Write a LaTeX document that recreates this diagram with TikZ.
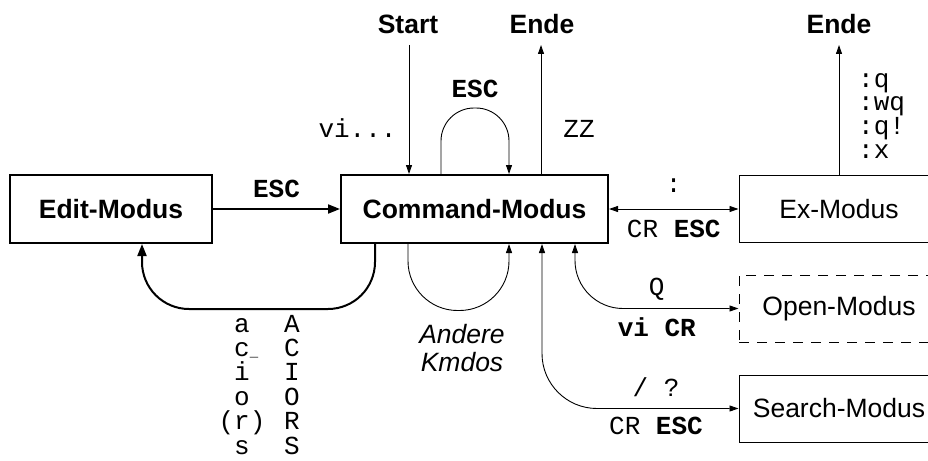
\documentclass[tikz,border=0pt]{standalone}
\usepackage{fontspec}
\setsansfont{Liberation Sans}
\setmonofont{Liberation Mono}
\usetikzlibrary{arrows.meta}

\newcommand{\bigfont}{\fontsize{26.5}{28}\selectfont}
\newcommand{\keyfont}{\fontsize{26}{28}\selectfont\ttfamily}
\newcommand{\smallbar}{\rlap{\fontsize{14}{14}\selectfont\_}}

\tikzset{
	modebox/.style={draw, line width=2pt, minimum height=68pt, inner sep=0pt, font=\sffamily\bfseries\bigfont},
	sidebox/.style={draw, line width=1pt, minimum width=200pt, minimum height=67pt, inner sep=0pt, font=\sffamily\bigfont},
	title/.style={font=\sffamily\bfseries\bigfont, inner sep=1pt},
	key/.style={font=\keyfont, inner sep=1pt, anchor=base},
	boldkey/.style={key, font=\keyfont\bfseries},
	thinarrow/.style={line width=0.9pt, -{Triangle[length=9pt,width=6pt]}},
	twoway/.style={line width=0.9pt, {Triangle[length=9pt,width=6pt]}-{Triangle[length=9pt,width=6pt]}},
	thickarrow/.style={line width=2pt, -{Triangle[length=12pt,width=9pt]}},
}

\begin{document}
\begin{tikzpicture}[x=1pt,y=-1pt]
	\clip (0,0) rectangle (928,460);
	
	% MODES
	\node[modebox, minimum width=202pt] (edit) at (111,209) {Edit-Modus};
	\node[modebox, minimum width=267pt] (cmd) at (474.5,209) {Command-Modus};
	\node[sidebox] (ex) at (839,209) {Ex-Modus};
	\node[sidebox, dash pattern=on 10pt off 8pt] (open) at (839,308.5) {Open-Modus};
	\node[sidebox] (search) at (839,408.5) {Search-Modus};
	
	% TOP ROW
	\node[title] (start) at (408,24) {Start};
	\node[title] (ende) at (542,24) {Ende};
	\node[title] (exende) at (839,24) {Ende};
	
	\coordinate (starttip) at (409,45);
	\coordinate (endetip) at (541,45);
	\coordinate (exendetip) at (839,45);
	
	% Start and end
	\draw[thinarrow] (starttip) -- (starttip |- cmd.north)
	node[key, pos=0.72, anchor=base east, xshift=-11pt] {vi...};
	\draw[thinarrow] (endetip |- cmd.north) -- (endetip)
	node[key, pos=0.28, anchor=base west, xshift=21pt] {ZZ};
	
	% ESC loop
	\draw[thinarrow, rounded corners=33pt] ([xshift=101pt]cmd.north west) -- ++(0,-66) -| ([xshift=-100pt]cmd.north east)
	node[boldkey, pos=0.25, yshift=11pt] {ESC};
	
	% Edit -> Command
	\draw[thickarrow] (edit) -- (cmd) node[boldkey, midway, yshift=12pt] {ESC};
	
	% Command <-> Ex
	\draw[twoway] (cmd) -- (ex)
	node[key, midway, yshift=17pt] {:}
	node[key, midway, yshift=-28pt] {CR \textbf{ESC}};
	
	% Ex -> Ende
	\draw[thinarrow] (ex) -- (exendetip);
	\foreach \quitcmd [count=\i] in {:q,:wq,:q!,:x}
		\node[key, anchor=base west] (quit\i) at (857,{87+23.7*(\i-1)}) {\quitcmd};
	
	% BOTTOM ROW
	
	% Command -> Edit
	\draw[thickarrow, rounded corners=47pt] ([xshift=35pt]cmd.south west) -- ++(0,65) -| ([xshift=133pt]edit.south west);
	\foreach \lc [count=\i] in {a,c\smallbar,i,o,{(r)},s}
		\node[key] (lower\i) at (242,{332+24.4*(\i-1)}) {\lc};
	\foreach \uc [count=\i] in {A,C,I,O,R,S}
		\node[key] (upper\i) at (292,{332+24.4*(\i-1)}) {\uc};
	
	% Other commands
	\draw[thinarrow, rounded corners=49.5pt] ([xshift=68pt]cmd.south west) -- ++(0,66.5) -| ([xshift=-100pt]cmd.south east);
	\node[font=\sffamily\itshape\bigfont, align=center, inner sep=0pt] (andere) at (462,348.5) {Andere\\Kmdos};
	
	% Command <-> Open
	\draw[twoway, rounded corners=48pt] (open.west) -| ([xshift=-34pt]cmd.south east)
	node[key, pos=0.25, yshift=13pt] {Q}
	node[boldkey, pos=0.25, yshift=-28pt] {vi CR};
	
	% Command <-> Search
	\draw[twoway, rounded corners=55pt] (search.west) -| ([xshift=-67pt]cmd.south east)
	node[key, pos=0.21, yshift=12pt] {/ ?}
	node[key, pos=0.21, yshift=-26pt] {CR \textbf{ESC}};
	
\end{tikzpicture}
\end{document}
